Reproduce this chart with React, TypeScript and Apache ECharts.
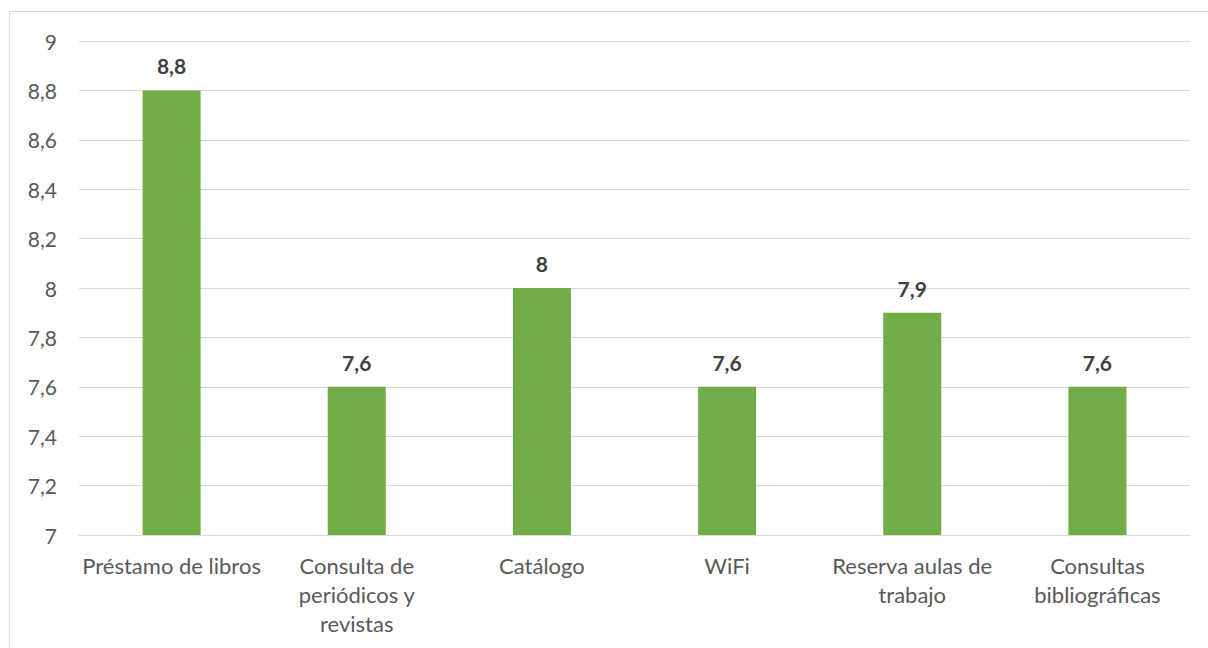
import React, { useEffect, useRef } from "react";
import * as echarts from "echarts";

const categories = [
  "Préstamo de libros",
  "Consulta de\nperiódicos y\nrevistas",
  "Catálogo",
  "WiFi",
  "Reserva aulas de\ntrabajo",
  "Consultas\nbibliográficas",
];
const values = [8.8, 7.6, 8, 7.6, 7.9, 7.6];
const yMin = 7;
const yMax = 9;
const yStep = 0.2;

const fmt = (v: number) => String(Math.round(v * 10) / 10).replace(".", ",");

export default function App() {
  const ref = useRef<HTMLDivElement>(null);
  useEffect(() => {
    if (!ref.current) return;
    const chart = echarts.init(ref.current, null, { renderer: "svg" });
    chart.setOption({
      animation: false,
      textStyle: { fontFamily: "Lato, 'Open Sans', sans-serif" },
      grid: { left: 79, right: 18, top: 41, bottom: 113 },
      xAxis: {
        type: "category",
        data: categories,
        axisLine: { show: true, lineStyle: { color: "#d9d9d9", width: 1 } },
        axisTick: { show: false },
        axisLabel: {
          color: "#595959",
          fontSize: 22,
          lineHeight: 29,
          margin: 16,
          interval: 0,
        },
      },
      yAxis: {
        type: "value",
        min: yMin,
        max: yMax,
        interval: yStep,
        axisLine: { show: false },
        axisTick: { show: false },
        splitLine: { lineStyle: { color: "#d9d9d9", width: 1 } },
        axisLabel: {
          color: "#595959",
          fontSize: 21,
          margin: 22,
          formatter: (v: number) => fmt(v),
        },
      },
      series: [
        {
          type: "bar",
          data: values,
          barWidth: 58,
          itemStyle: { color: "#70ad47" },
          label: {
            show: true,
            position: "top",
            distance: 14,
            color: "#404040",
            fontSize: 21,
            fontWeight: "bold",
            formatter: (p: any) => fmt(p.value),
          },
        },
      ],
    });
    return () => chart.dispose();
  }, []);
  return (
    <div style={{ position: "fixed", left: 0, top: 0, width: 1208, height: 648, background: "#fff" }}>
      <div
        style={{
          position: "absolute",
          left: 9,
          top: 11,
          width: 1210,
          height: 660,
          border: "1px solid #d9d9d9",
          boxSizing: "border-box",
        }}
      />
      <div ref={ref} style={{ position: "absolute", left: 0, top: 0, width: 1208, height: 648 }} />
    </div>
  );
}
